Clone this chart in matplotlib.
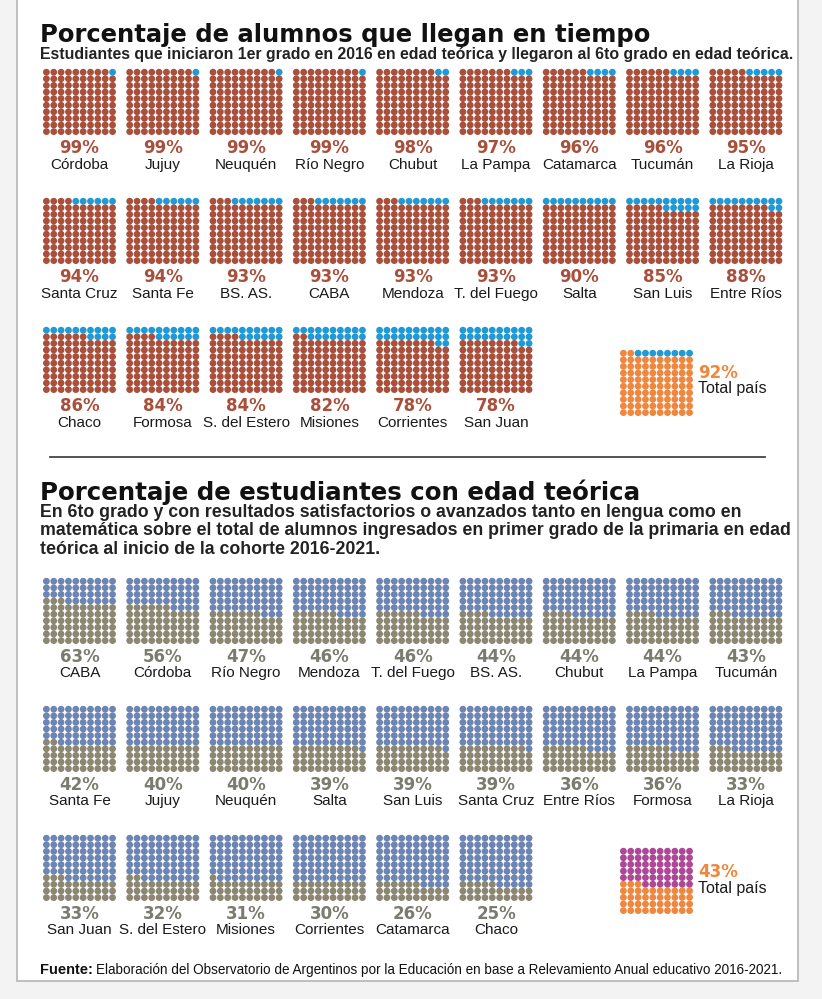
import matplotlib
matplotlib.use('Agg')
import matplotlib.pyplot as plt
from matplotlib.patches import Rectangle

# --- data ---------------------------------------------------------------
llegan_names = ['Córdoba', 'Jujuy', 'Neuquén', 'Río Negro', 'Chubut', 'La Pampa',
                'Catamarca', 'Tucumán', 'La Rioja',
                'Santa Cruz', 'Santa Fe', 'BS. AS.', 'CABA', 'Mendoza', 'T. del Fuego',
                'Salta', 'San Luis', 'Entre Ríos',
                'Chaco', 'Formosa', 'S. del Estero', 'Misiones', 'Corrientes', 'San Juan']
llegan_pct = [99, 99, 99, 99, 98, 97, 96, 96, 95,
              94, 94, 93, 93, 93, 93, 90, 85, 88,
              86, 84, 84, 82, 78, 78]
llegan_total = 92

edad_names = ['CABA', 'Córdoba', 'Río Negro', 'Mendoza', 'T. del Fuego', 'BS. AS.',
              'Chubut', 'La Pampa', 'Tucumán',
              'Santa Fe', 'Jujuy', 'Neuquén', 'Salta', 'San Luis', 'Santa Cruz',
              'Entre Ríos', 'Formosa', 'La Rioja',
              'San Juan', 'S. del Estero', 'Misiones', 'Corrientes', 'Catamarca', 'Chaco']
edad_pct = [63, 56, 47, 46, 46, 44, 44, 44, 43,
            42, 40, 40, 39, 39, 39, 36, 36, 33,
            33, 32, 31, 30, 26, 25]
edad_total = 43

# --- colours / fonts ----------------------------------------------------
BROWN = '#a9503c'
CYAN = '#1f9ad6'
ORANGE = '#ef873e'
STEEL = '#6d85b3'
OLIVE = '#8c8772'
MAGENTA = '#ad4796'
GREYTXT = '#7b7b70'
BOLD = ['DejaVu Sans']
NARROW = ['Liberation Sans', 'DejaVu Sans']

W, H = 822, 999
fig = plt.figure(figsize=(W / 100, H / 100), dpi=100, facecolor='#f3f3f3')
ax = fig.add_axes([0, 0, 1, 1])
ax.set_xlim(0, W)
ax.set_ylim(H, 0)
ax.axis('off')
renderer = fig.canvas.get_renderer()

ax.add_patch(Rectangle((17, -5), 781, 986, facecolor='white',
                       edgecolor='#b5b5b5', lw=1.2, zorder=0))


def fit_text(x, y, s, width, size=12, **kw):
    t = ax.text(x, y, s, fontsize=size, **kw)
    bb = t.get_window_extent(renderer=renderer)
    t.set_fontsize(size * width / bb.width)
    return t


def waffle(x0, y0, pct, base, other, from_top):
    # 10 x 10 dots, 'pct' dots in base colour, the rest in other colour
    xs, ys, cs = [], [], []
    n_other = 100 - pct
    for k in range(100):
        r, c = divmod(k, 10)
        if from_top:
            # other colour fills top rows from right to left
            row, col = r, 9 - c
            col_k = other if k < n_other else base
        else:
            # base colour fills bottom rows from left to right
            row, col = 9 - r, c
            col_k = base if k < pct else other
        xs.append(x0 + 3.4 + col * 7.35)
        ys.append(y0 + 3.2 + row * 6.6)
        cs.append(col_k)
    ax.scatter(xs, ys, s=24, c=cs, linewidths=0, zorder=2)


col_x = [43 + 83.3 * i for i in range(9)]

# --- top section --------------------------------------------------------
fit_text(40, 42, 'Porcentaje de alumnos que llegan en tiempo', 610,
         family=BOLD, weight='bold', color='#111111', va='baseline')
fit_text(40, 59, 'Estudiantes que iniciaron 1er grado en 2016 en edad teórica y '
         'llegaron al 6to grado en edad teórica.', 748,
         family=NARROW, weight='bold', color='#222222', va='baseline')

row_y = [69, 198, 327]
for i, (name, p) in enumerate(zip(llegan_names, llegan_pct)):
    r, c = divmod(i, 9)
    x0, y0 = col_x[c], row_y[r]
    waffle(x0, y0, p, BROWN, CYAN, True)
    ax.text(x0 + 36.5, y0 + 79, f'{p}%', ha='center', va='center',
            fontsize=12, family=BOLD, weight='bold', color=BROWN)
    ax.text(x0 + 36.5, y0 + 96, name, ha='center', va='center',
            fontsize=11, family=NARROW, color='#1a1a1a')

waffle(620, 350, llegan_total, ORANGE, CYAN, True)
ax.text(698, 373, f'{llegan_total}%', ha='left', va='center', fontsize=12,
        family=BOLD, weight='bold', color=ORANGE)
ax.text(698, 389, 'Total país', ha='left', va='center', fontsize=11.5,
        family=NARROW, color='#1a1a1a')

ax.plot([50, 765], [457, 457], color='#444444', lw=1.3)

# --- bottom section -----------------------------------------------------
fit_text(40, 500, 'Porcentaje de estudiantes con edad teórica', 600,
         family=BOLD, weight='bold', color='#111111', va='baseline')
sub_lines = ['En 6to grado y con resultados satisfactorios o avanzados tanto en lengua como en',
             'matemática sobre el total de alumnos ingresados en primer grado de la primaria en edad',
             'teórica al inicio de la cohorte 2016-2021.']
t = fit_text(40, 535, sub_lines[1], 745, family=NARROW, weight='bold',
             color='#222222', va='baseline')
sub_size = t.get_fontsize()
ax.text(40, 517, sub_lines[0], fontsize=sub_size, family=NARROW, weight='bold',
        color='#222222', va='baseline')
ax.text(40, 554, sub_lines[2], fontsize=sub_size, family=NARROW, weight='bold',
        color='#222222', va='baseline')

row_y2 = [578, 706, 835]
for i, (name, p) in enumerate(zip(edad_names, edad_pct)):
    r, c = divmod(i, 9)
    x0, y0 = col_x[c], row_y2[r]
    waffle(x0, y0, p, OLIVE, STEEL, False)
    ax.text(x0 + 36.5, y0 + 79, f'{p}%', ha='center', va='center',
            fontsize=12, family=BOLD, weight='bold', color=GREYTXT)
    ax.text(x0 + 36.5, y0 + 95, name, ha='center', va='center',
            fontsize=11, family=NARROW, color='#1a1a1a')

waffle(620, 848, edad_total, ORANGE, MAGENTA, False)
ax.text(698, 872, f'{edad_total}%', ha='left', va='center', fontsize=12,
        family=BOLD, weight='bold', color=ORANGE)
ax.text(698, 889, 'Total país', ha='left', va='center', fontsize=11.5,
        family=NARROW, color='#1a1a1a')

# --- footer -------------------------------------------------------------
f1 = ax.text(40, 974, 'Fuente:', fontsize=10.5, family=NARROW, weight='bold',
             color='#111111', va='baseline')
bb = f1.get_window_extent(renderer=renderer)
fit_text(40 + bb.width + 3, 974, 'Elaboración del Observatorio de Argentinos por la '
         'Educación en base a Relevamiento Anual educativo 2016-2021.', 688,
         family=NARROW, color='#111111', va='baseline')

fig.savefig('out.png', dpi=100, facecolor=fig.get_facecolor())
